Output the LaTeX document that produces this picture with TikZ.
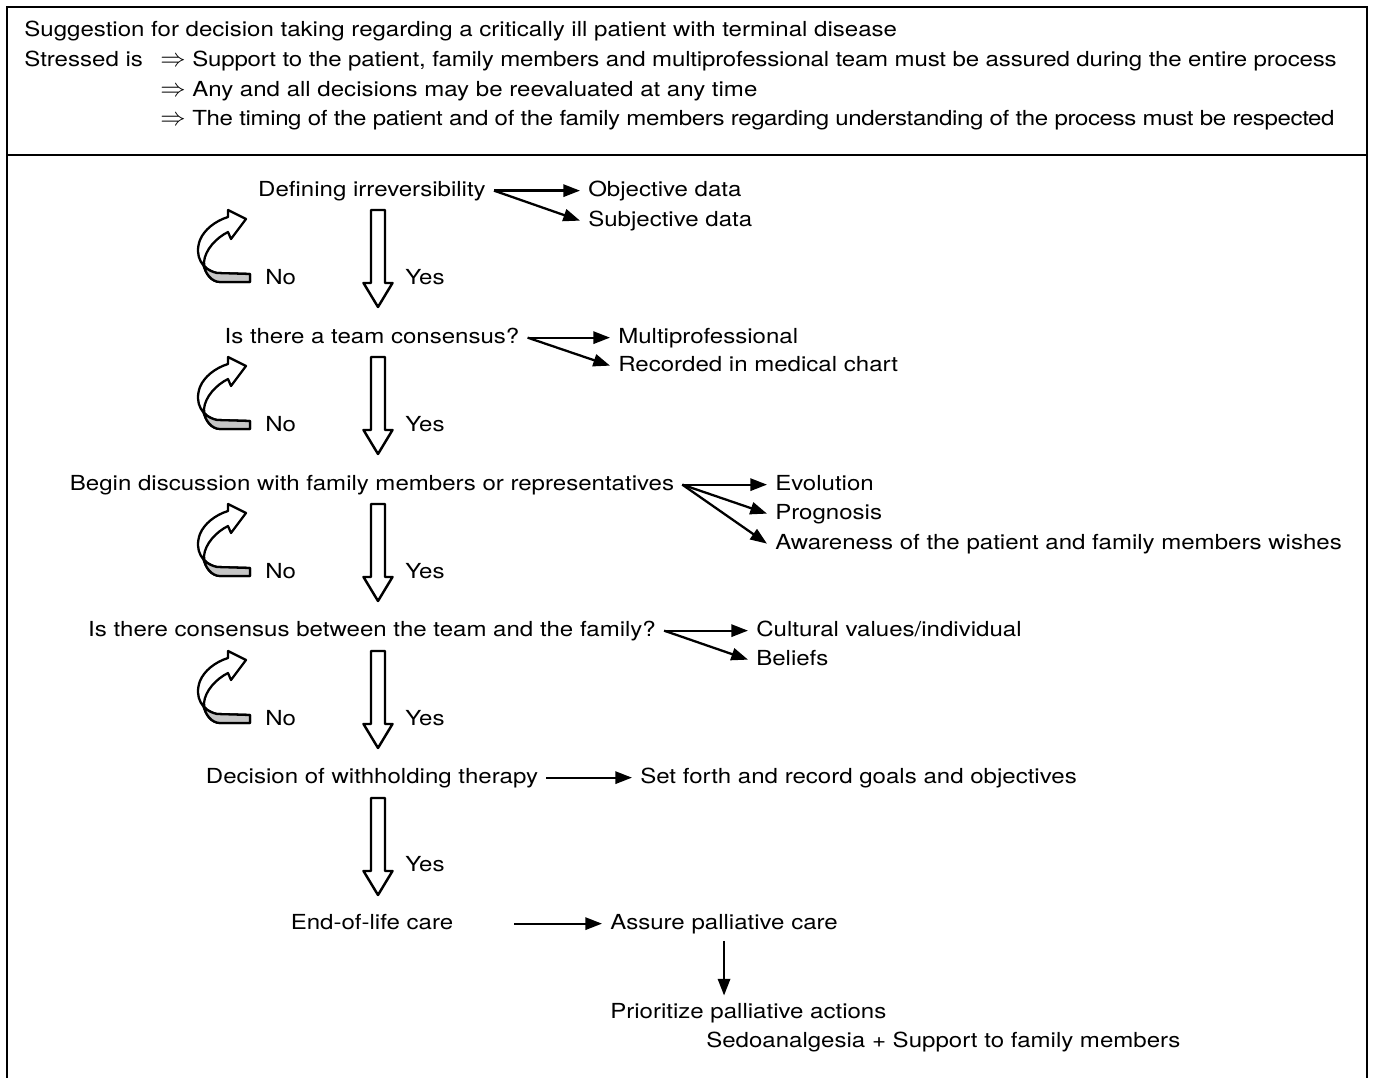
\documentclass[tikz,border=0pt]{standalone}
\usepackage{fontspec}
\setmainfont{TeX Gyre Heros}[FakeStretch=1.16]
\usetikzlibrary{arrows.meta}

\begin{document}
\begin{tikzpicture}[x=0.02cm, y=-0.02cm,
            every node/.style={font=\fontsize{11.8}{14}\selectfont},
            head/.style={inner sep=0pt, anchor=base west},
            stage/.style={inner xsep=4.5pt, inner ysep=4pt, text height=8.6pt, text depth=2.5pt, anchor=base},
            option/.style={stage, anchor=base west},
            answer/.style={inner sep=0pt, anchor=base west},
            frame/.style={line width=1.5pt},
            link/.style={-{Triangle[length=9.5pt,width=7pt]}, line width=1.3pt},
            downarrow/.pic={
                \draw[line width=1.4pt, line join=round, fill=white] (-7,0) -- (7,0) -- (7,73) -- (14.5,73) -- (0,97) -- (-14.5,73) -- (-7,73) -- cycle;
            },
            backarrow/.pic={
                \draw[line width=1.3pt, line join=round, fill=white] (0,-4) -- (-33,-5) .. controls (-48,-8) and (-56,-22) .. (-50,-38) .. controls (-46,-48) and (-35,-57) .. (-22,-61) -- (-22,-68) -- (-4,-59) -- (-19,-39) -- (-22,-46) .. controls (-34,-40) and (-45,-28) .. (-46,-16) .. controls (-46,-4) and (-38,4) .. (-30,4) -- (0,4) -- cycle;
                \draw[line width=1.3pt, line join=round, fill=gray!45] (0,-4) -- (-33,-5) .. controls (-42,-7) and (-47,-12) .. (-47,-15) .. controls (-45,-4) and (-38,4) .. (-30,4) -- (0,4) -- cycle;
            }
        ]
            \useasboundingbox (0,0) rectangle (1373,1078);

            % frame
            \draw[frame] (7,1078) -- (7,7) -- (1367,7) -- (1367,1078);
            \draw[frame] (7,155) -- (1367,155);

            % header
            \node[head] (title) at (24,37) {Suggestion for decision taking regarding a critically ill patient with terminal disease};
            \node[head] (stress) at (24,67) {Stressed is};
            \node[head] (s1) at (160,67) {{\fontsize{14}{14}\selectfont$\Rightarrow$} \addfontfeature{LetterSpace=-0.9}Support to the patient, family members and multiprofessional team must be assured during the entire process};
            \node[head] (s2) at (160,97) {{\fontsize{14}{14}\selectfont$\Rightarrow$} Any and all decisions may be reevaluated at any time};
            \node[head] (s3) at (160,126) {{\fontsize{14}{14}\selectfont$\Rightarrow$} \addfontfeature{LetterSpace=-1.8}The timing of the patient and of the family members regarding understanding of the process must be respected};

            % irreversibility
            \node[stage] (irr) at (372,196) {Defining irreversibility};
            \node[option] (obj) at (580,196) {Objective data};
            \node[option] (subj) at (580,226) {Subjective data};
            \draw[link] (irr.east) -- (obj.west);
            \draw[link] (irr.east) -- (subj.west);
            \pic at (250,278) {backarrow};
            \node[answer] (no1) at (265,284) {No};
            \pic at (378,210) {downarrow};
            \node[answer] (yes1) at (405,284) {Yes};

            % team consensus
            \node[stage] (cons) at (372,343) {Is there a team consensus?};
            \node[option] (multi) at (610,343) {Multiprofessional};
            \node[option] (chart) at (610,371) {Recorded in medical chart};
            \draw[link] (cons.east) -- (multi.west);
            \draw[link] (cons.east) -- (chart.west);
            \pic at (250,425) {backarrow};
            \node[answer] (no2) at (265,431) {No};
            \pic at (378,357) {downarrow};
            \node[answer] (yes2) at (405,431) {Yes};

            % discussion with family
            \node[stage] (disc) at (372,490) {Begin discussion with family members or representatives};
            \node[option] (evo) at (767,490) {Evolution};
            \node[option] (prog) at (767,519) {Prognosis};
            \node[option] (aware) at (767,549) {Awareness of the patient and family members wishes};
            \draw[link] (disc.east) -- (evo.west);
            \draw[link] (disc.east) -- (prog.west);
            \draw[link] (disc.east) -- (aware.west);
            \pic at (250,572) {backarrow};
            \node[answer] (no3) at (265,578) {No};
            \pic at (378,504) {downarrow};
            \node[answer] (yes3) at (405,578) {Yes};

            % team and family consensus
            \node[stage] (fam) at (372,636) {Is there consensus between the team and the family?};
            \node[option] (cult) at (748,636) {Cultural values/individual};
            \node[option] (bel) at (748,665) {Beliefs};
            \draw[link] (fam.east) -- (cult.west);
            \draw[link] (fam.east) -- (bel.west);
            \pic at (250,719) {backarrow};
            \node[answer] (no4) at (265,725) {No};
            \pic at (378,651) {downarrow};
            \node[answer] (yes4) at (405,725) {Yes};

            % withholding
            \node[stage] (dec) at (372,783) {Decision of withholding therapy};
            \node[option] (goals) at (632,783) {Set forth and record goals and objectives};
            \draw[link] (dec.east) -- (goals.west);
            \pic at (378,798) {downarrow};
            \node[answer] (yes5) at (405,871) {Yes};

            % end of life
            \node[stage] (eol) at (372,929) {End-of-life care};
            \node[option] (pal) at (602,929) {Assure palliative care};
            \node[option] (prio) at (602,1018) {Prioritize palliative actions};
            \node[option] (sedo) at (698,1047) {Sedoanalgesia + Support to family members};
            \draw[link, shorten <=30pt] (eol.east) -- (pal.west);
            \draw[link] (pal.south) -- (pal.south |- prio.north);
        \end{tikzpicture}
\end{document}
